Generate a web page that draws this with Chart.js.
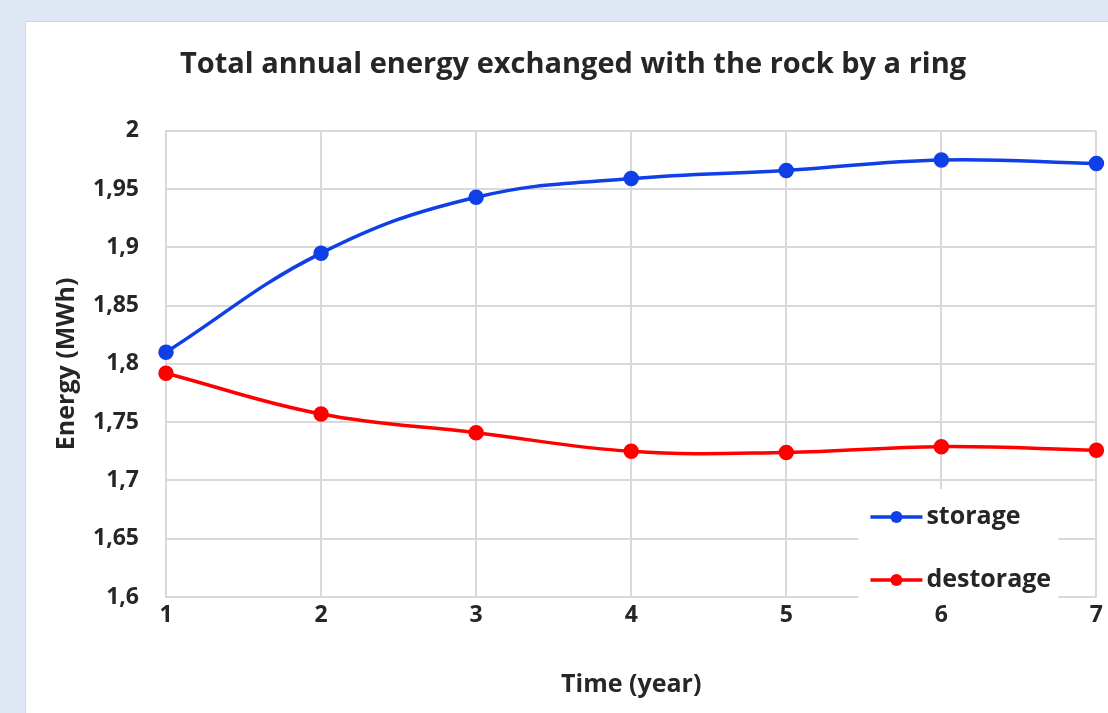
<!DOCTYPE html>
<html>
<head>
<meta charset="utf-8">
<script src="https://cdn.jsdelivr.net/npm/chart.js@4.4.0/dist/chart.umd.min.js"></script>
<style>
  html, body { margin: 0; padding: 0; }
  body { width: 1108px; height: 713px; background: #dee8f4; position: relative; overflow: hidden; }
  #panel { position: absolute; left: 25px; top: 21px; width: 1100px; height: 720px; background: #fff; border: 1px solid #d6d6d6; }
  #wrap { position: absolute; left: 0; top: 0; width: 1108px; height: 713px; }
</style>
</head>
<body>
<div id="panel"></div>
<div id="wrap"><canvas id="energyChart"></canvas></div>
<script>
// data
const years = ['1', '2', '3', '4', '5', '6', '7'];
const storage = [1.810, 1.895, 1.943, 1.959, 1.966, 1.975, 1.972];
const destorage = [1.792, 1.757, 1.741, 1.725, 1.724, 1.729, 1.726];
const yMin = 1.6;
const yMax = 2;
const yStep = 0.05;

const textColor = '#262626';
const gridColor = '#d9d9d9';
const fontFamily = '"Open Sans", Lato, sans-serif';

// legend drawn inside the plot, bottom right, on a white box
const insideLegend = {
    id: 'insideLegend',
    afterDraw(chart) {
        const ctx = chart.ctx;
        const area = chart.chartArea;
        const x0 = area.right - 238;
        const y0 = area.bottom - 108;
        ctx.save();
        ctx.fillStyle = '#ffffff';
        ctx.fillRect(x0, y0, 200, 112);
        chart.data.datasets.forEach(function (ds, i) {
            const y = area.bottom - 80 + i * 63;
            ctx.strokeStyle = ds.borderColor;
            ctx.lineWidth = 3.5;
            ctx.beginPath();
            ctx.moveTo(x0 + 12, y);
            ctx.lineTo(x0 + 64, y);
            ctx.stroke();
            ctx.fillStyle = ds.borderColor;
            ctx.beginPath();
            ctx.arc(x0 + 38, y, 6, 0, Math.PI * 2);
            ctx.fill();
            ctx.fillStyle = textColor;
            ctx.font = 'bold 25px ' + fontFamily;
            ctx.textBaseline = 'middle';
            ctx.textAlign = 'left';
            ctx.fillText(ds.label, x0 + 68, y);
        });
        ctx.restore();
    }
};

const ctx = document.getElementById('energyChart').getContext('2d');
const energyChart = new Chart(ctx, {
    type: 'line',
    data: {
        labels: years,
        datasets: [{
            label: 'storage',
            data: storage,
            borderColor: '#0f3fe6',
            backgroundColor: '#0f3fe6',
            borderWidth: 3.5,
            pointRadius: 6,
            pointHoverRadius: 6,
            tension: 0.4,
            fill: false
        }, {
            label: 'destorage',
            data: destorage,
            borderColor: '#ff0000',
            backgroundColor: '#ff0000',
            borderWidth: 3.5,
            pointRadius: 6,
            pointHoverRadius: 6,
            tension: 0.4,
            fill: false
        }]
    },
    options: {
        responsive: true,
        maintainAspectRatio: false,
        animation: false,
        layout: {
            padding: { left: 48, right: 10, top: 0, bottom: 0 }
        },
        plugins: {
            legend: { display: false },
            tooltip: { enabled: false },
            title: {
                display: true,
                text: 'Total annual energy exchanged with the rock by a ring',
                color: textColor,
                font: { family: fontFamily, size: 29, weight: 'bold' },
                padding: { top: 47, bottom: 49 }
            }
        },
        scales: {
            x: {
                offset: false,
                grid: { color: gridColor, lineWidth: 2, drawTicks: false },
                border: { color: gridColor, width: 2 },
                ticks: {
                    color: textColor,
                    padding: 5,
                    font: { family: fontFamily, size: 23, weight: 'bold' }
                },
                title: {
                    display: true,
                    text: 'Time (year)',
                    color: textColor,
                    font: { family: fontFamily, size: 25, weight: 'bold' },
                    padding: { top: 0, bottom: 13 }
                },
                afterFit: function (scale) {
                    scale.height = 116;
                }
            },
            y: {
                min: yMin,
                max: yMax,
                grid: { color: gridColor, lineWidth: 2, drawTicks: false },
                border: { color: gridColor, width: 2 },
                ticks: {
                    stepSize: yStep,
                    color: textColor,
                    padding: 27,
                    font: { family: fontFamily, size: 23, weight: 'bold' },
                    callback: function (value) {
                        return String(Math.round(value * 100) / 100).replace('.', ',');
                    }
                },
                title: {
                    display: true,
                    text: 'Energy (MWh)',
                    color: textColor,
                    font: { family: fontFamily, size: 25, weight: 'bold' },
                    padding: { top: 4, bottom: 0 }
                },
                afterFit: function (scale) {
                    scale.width = 118;
                }
            }
        }
    },
    plugins: [insideLegend]
});
</script>
</body>
</html>
